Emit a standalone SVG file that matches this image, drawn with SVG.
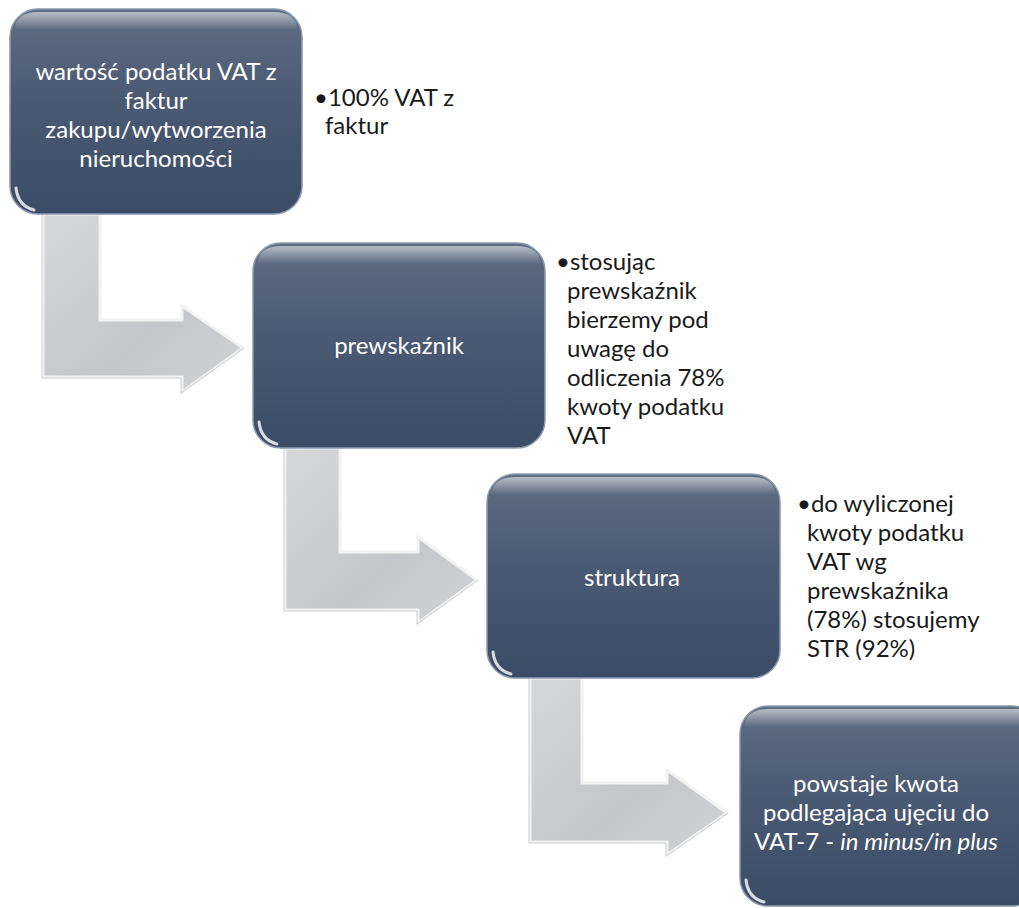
<svg xmlns="http://www.w3.org/2000/svg" width="1019" height="908" viewBox="0 0 1019 908">
<defs>
<linearGradient id="boxg" x1="0" y1="0" x2="0" y2="1">
<stop offset="0" stop-color="#5f6d82"/>
<stop offset="0.45" stop-color="#4a5a72"/>
<stop offset="1" stop-color="#3b4c66"/>
</linearGradient>
<linearGradient id="arrg" x1="0" y1="0" x2="1" y2="1">
<stop offset="0" stop-color="#d6d7d9"/>
<stop offset="0.6" stop-color="#c4c6c9"/>
<stop offset="1" stop-color="#d2d3d5"/>
</linearGradient>
<linearGradient id="shine" x1="0" y1="0" x2="0" y2="1">
<stop offset="0" stop-color="#ffffff" stop-opacity="0.55"/>
<stop offset="1" stop-color="#ffffff" stop-opacity="0"/>
</linearGradient>
</defs>
<style>
.box{fill:url(#boxg);stroke:#8a9ab0;stroke-width:1.5}
.hl{fill:url(#shine)}
.corner{fill:none;stroke:#ffffff;stroke-opacity:0.8;stroke-width:3;stroke-linecap:round}
.arr{fill:url(#arrg);stroke:#f2f2f2;stroke-width:3;stroke-linejoin:miter}
.arro{fill:none;stroke:#cfd1d4;stroke-width:1}
.bt{font-family:Lato,"Liberation Sans",sans-serif;font-size:24px;fill:#ffffff;text-anchor:middle}
.st{font-family:Lato,"Liberation Sans",sans-serif;font-size:24px;fill:#1a1a1a}
</style>
<rect width="1019" height="908" fill="#ffffff"/>
<g id="connectors">
<path class="arr" d="M43,214 L100,214 L100,320 L182,320 L182,306 L243,348 L182,392 L182,377 L43,377 Z"/>
<path class="arro" d="M42,214 L42,378 L181,378 L181,393 L244,348"/>
<path class="arr" d="M285,448 L340,448 L340,552 L418,552 L418,537 L477,580 L418,623 L418,610 L285,610 Z"/>
<path class="arro" d="M284,448 L284,611 L417,611 L417,624 L478,580"/>
<path class="arr" d="M530,678 L582,678 L582,783 L667,783 L667,770 L727,813 L667,855 L667,842 L530,842 Z"/>
<path class="arro" d="M529,678 L529,843 L666,843 L666,856 L728,813"/>
</g>
<g id="node1">
<rect class="box" x="10" y="9" width="292" height="205" rx="28"/>
<path class="hl" d="M38,12 L274,12 Q296,12 298,30 L14,30 Q16,12 38,12 Z"/>
<path class="corner" d="M16,188 Q18,206 34,210"/>
<text class="bt"><tspan x="156" y="80">wartość podatku VAT z</tspan><tspan x="156" y="109">faktur</tspan><tspan x="156" y="138">zakupu/wytworzenia</tspan><tspan x="156" y="167">nieruchomości</tspan></text>
</g>
<g id="note1">
<text class="st"><tspan x="314" y="106">•100% VAT z</tspan><tspan x="325" y="134">faktur</tspan></text>
</g>
<g id="node2">
<rect class="box" x="253" y="243" width="292" height="205" rx="28"/>
<path class="hl" d="M281,246 L517,246 Q539,246 541,264 L257,264 Q259,246 281,246 Z"/>
<path class="corner" d="M259,422 Q261,440 277,444"/>
<text class="bt" x="399" y="354">prewskaźnik</text>
</g>
<g id="note2">
<text class="st"><tspan x="556" y="270">•stosując</tspan><tspan x="567" y="299">prewskaźnik</tspan><tspan x="567" y="328">bierzemy pod</tspan><tspan x="567" y="357">uwagę do</tspan><tspan x="567" y="386">odliczenia 78%</tspan><tspan x="567" y="415">kwoty podatku</tspan><tspan x="567" y="444">VAT</tspan></text>
</g>
<g id="node3">
<rect class="box" x="487" y="474" width="293" height="204" rx="28"/>
<path class="hl" d="M515,477 L752,477 Q774,477 776,495 L491,495 Q493,477 515,477 Z"/>
<path class="corner" d="M493,652 Q495,670 511,674"/>
<text class="bt" x="632" y="586">struktura</text>
</g>
<g id="note3">
<text class="st"><tspan x="797" y="512">•do wyliczonej</tspan><tspan x="807" y="541">kwoty podatku</tspan><tspan x="807" y="570">VAT wg</tspan><tspan x="807" y="599">prewskaźnika</tspan><tspan x="807" y="628">(78%) stosujemy</tspan><tspan x="807" y="657">STR (92%)</tspan></text>
</g>
<g id="node4">
<rect class="box" x="740" y="706" width="300" height="200" rx="28"/>
<path class="hl" d="M768,709 L1019,709 L1019,727 L744,727 Q746,709 768,709 Z"/>
<path class="corner" d="M746,880 Q748,898 764,902"/>
<text class="bt"><tspan x="876" y="792">powstaje kwota</tspan><tspan x="876" y="821">podlegająca ujęciu do</tspan><tspan x="876" y="850">VAT-7 - <tspan font-style="italic">in minus/in plus</tspan></tspan></text>
</g>
</svg>
